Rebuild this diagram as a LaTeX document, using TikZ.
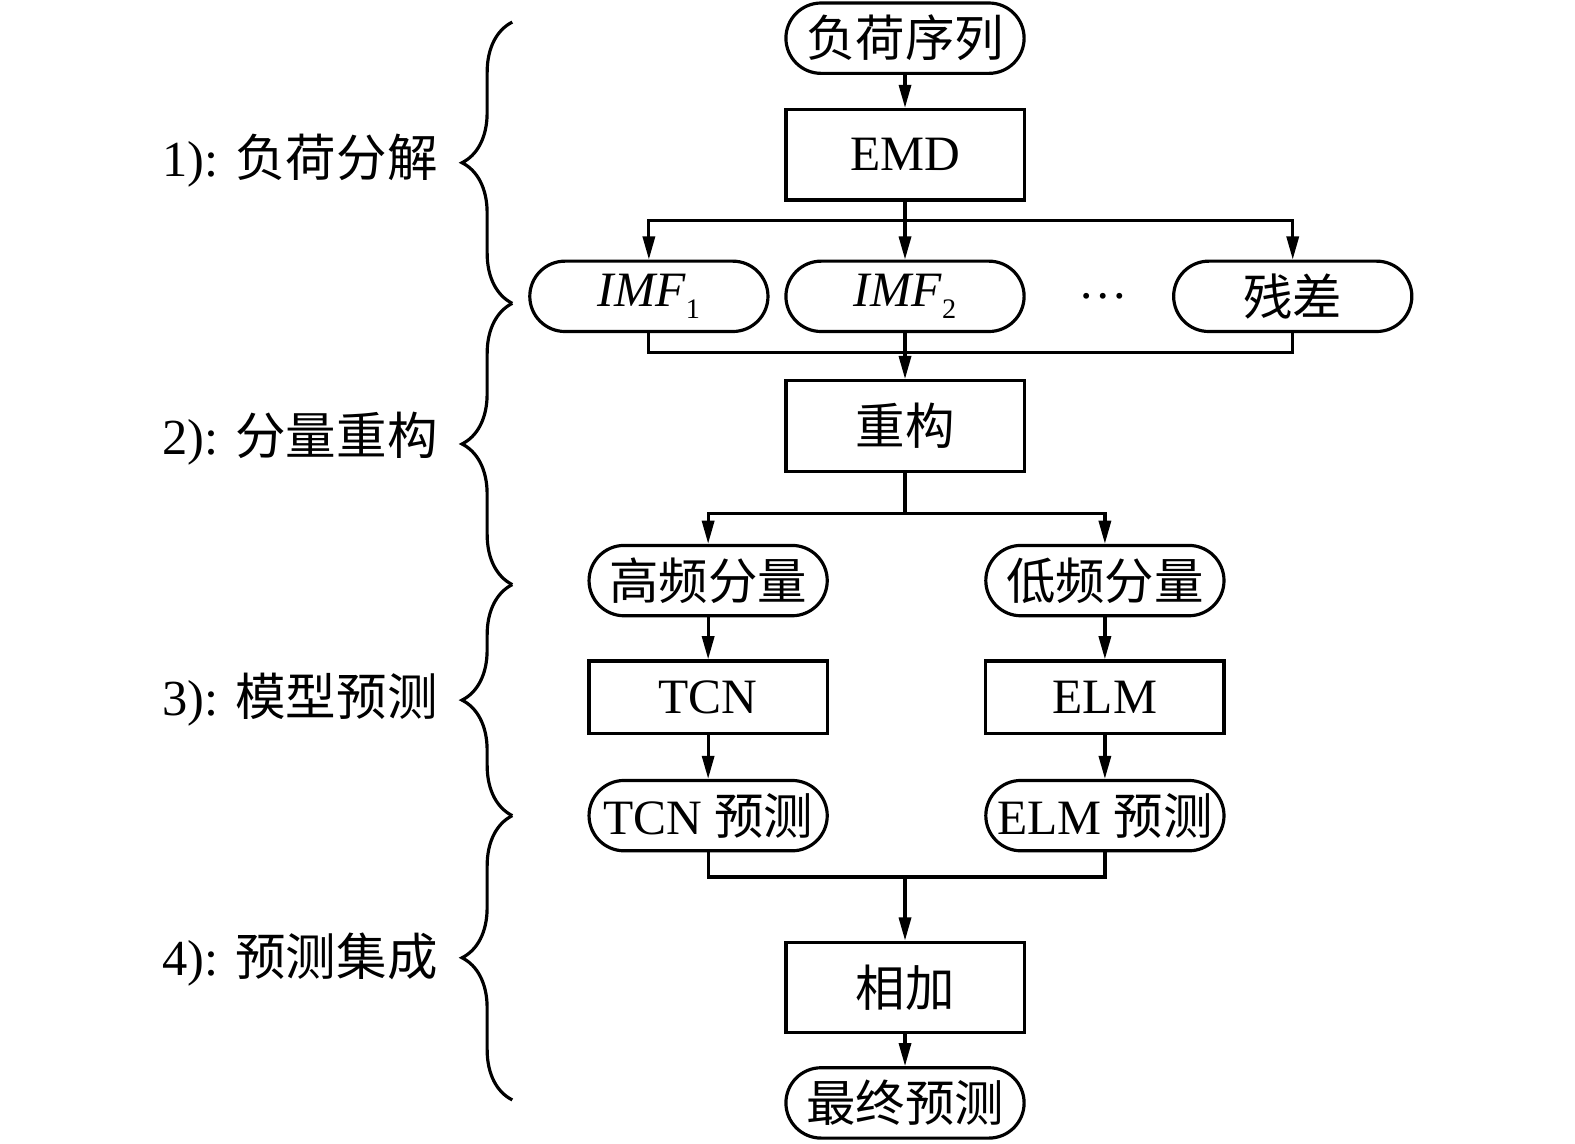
\documentclass[tikz,border=0pt]{standalone}
\usepackage{fontspec}
\setmainfont{Liberation Serif}
\newfontfamily\cjk{Noto Sans CJK SC}
\usepackage{tikz}
\usetikzlibrary{arrows.meta,positioning,decorations.pathreplacing}
\newcommand{\zh}[1]{{\cjk #1}}

\begin{document}
\begin{tikzpicture}[x=0.01cm,y=-0.01cm,>={Triangle[length=2.3mm,width=1.2mm]},font=\fontsize{14}{16}\selectfont]

\tikzset{
term/.style={
    draw,
    line width=0.9pt,
    rounded corners=3.5mm,
    minimum width=2.37cm,
    minimum height=0.7cm,
    inner sep=0pt
},
proc/.style={
    draw,
    line width=0.9pt,
    minimum width=2.37cm,
    minimum height=0.9cm,
    inner sep=0pt
},
arrow/.style={->,line width=0.9pt},
link/.style={line width=0.9pt},
stagebrace/.style={decorate,decoration={brace,amplitude=5mm},line width=0.9pt},
stagelabel/.style={anchor=east,font=\fontsize{14.3}{16}\selectfont}
}

\useasboundingbox (0,0) rectangle (1568,1138);

% main column
\node[term] (seq) at (901,38) {\zh{负荷序列}};
\node[proc] (emd) at (901,154) {EMD};
\node[term] (imf1) at (646,295) {\textit{IMF}\raisebox{-0.5ex}{\footnotesize 1}};
\node[term] (imf2) at (901,295) {\textit{IMF}\raisebox{-0.5ex}{\footnotesize 2}};
\node (dots) at (1098,295) {…};
\node[term] (res) at (1287,295) {\zh{残差}};
\node[proc] (rec) at (901,424) {\zh{重构}};
\node[term] (high) at (705,578) {\zh{高频分量}};
\node[term] (low) at (1100,578) {\zh{低频分量}};
\node[proc,minimum height=0.72cm] (tcn) at (705,694) {TCN};
\node[proc,minimum height=0.72cm] (elm) at (1100,694) {ELM};
\node[term] (tcnp) at (705,812) {TCN \zh{预测}};
\node[term] (elmp) at (1100,812) {ELM \zh{预测}};
\node[proc] (add) at (901,983) {\zh{相加}};
\node[term] (final) at (901,1098) {\zh{最终预测}};

\coordinate (merge1) at (901,351);
\coordinate (merge2) at (901,873);

\draw[arrow] (seq) -- (emd);
\draw[link] (emd.south) -- ++(0,19) coordinate (split1);
\draw[arrow] (split1) -| (imf1.north);
\draw[arrow] (split1) -| (res.north);
\draw[arrow] (emd) -- (imf2);

\draw[link] (imf1.south) |- (merge1) -| (res.south);
\draw[arrow] (imf2) -- (rec);

\draw[link] (rec.south) -- ++(0,41) coordinate (split2);
\draw[arrow] (split2) -| (high.north);
\draw[arrow] (split2) -| (low.north);

\draw[arrow] (high) -- (tcn);
\draw[arrow] (low) -- (elm);
\draw[arrow] (tcn) -- (tcnp);
\draw[arrow] (elm) -- (elmp);

\draw[link] (tcnp.south) |- (merge2) -| (elmp.south);
\draw[arrow] (merge2) -- (add);
\draw[arrow] (add) -- (final);

% stages
\draw[stagebrace] (510,302) -- (510,22);
\draw[stagebrace] (510,582) -- (510,302);
\draw[stagebrace] (510,812) -- (510,582);
\draw[stagebrace] (510,1095) -- (510,812);

\node[stagelabel] (st1) at (448,160) {1): \zh{负荷分解}};
\node[stagelabel] (st2) at (448,437) {2): \zh{分量重构}};
\node[stagelabel] (st3) at (448,697) {3): \zh{模型预测}};
\node[stagelabel] (st4) at (448,955) {4): \zh{预测集成}};

\end{tikzpicture}
\end{document}
